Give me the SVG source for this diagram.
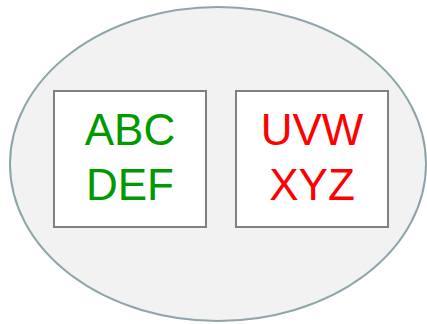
<svg xmlns="http://www.w3.org/2000/svg" width="427" height="324" viewBox="0 0 427 324">
<style>
.box{fill:#ffffff;stroke:#808080;stroke-width:2}
.t{font-family:"Liberation Sans",Arial,sans-serif;font-size:44px;text-anchor:middle}
</style>
<rect width="427" height="324" fill="#ffffff"/>
<g id="container">
<ellipse cx="218" cy="164" rx="208" ry="157" fill="#f2f2f2" stroke="#8ea5aa" stroke-width="2"/>
</g>
<g id="node-abc">
<rect class="box" x="54" y="91" width="152" height="136"/>
<text class="t" fill="#009900" x="130" y="144.5">ABC</text>
<text class="t" fill="#009900" x="130" y="199.5">DEF</text>
</g>
<g id="node-uvw">
<rect class="box" x="236" y="91" width="152" height="136"/>
<text class="t" fill="#ff0000" x="312" y="144.5">UVW</text>
<text class="t" fill="#ff0000" x="312" y="199.5">XYZ</text>
</g>
<g id="connectors"></g>
</svg>
